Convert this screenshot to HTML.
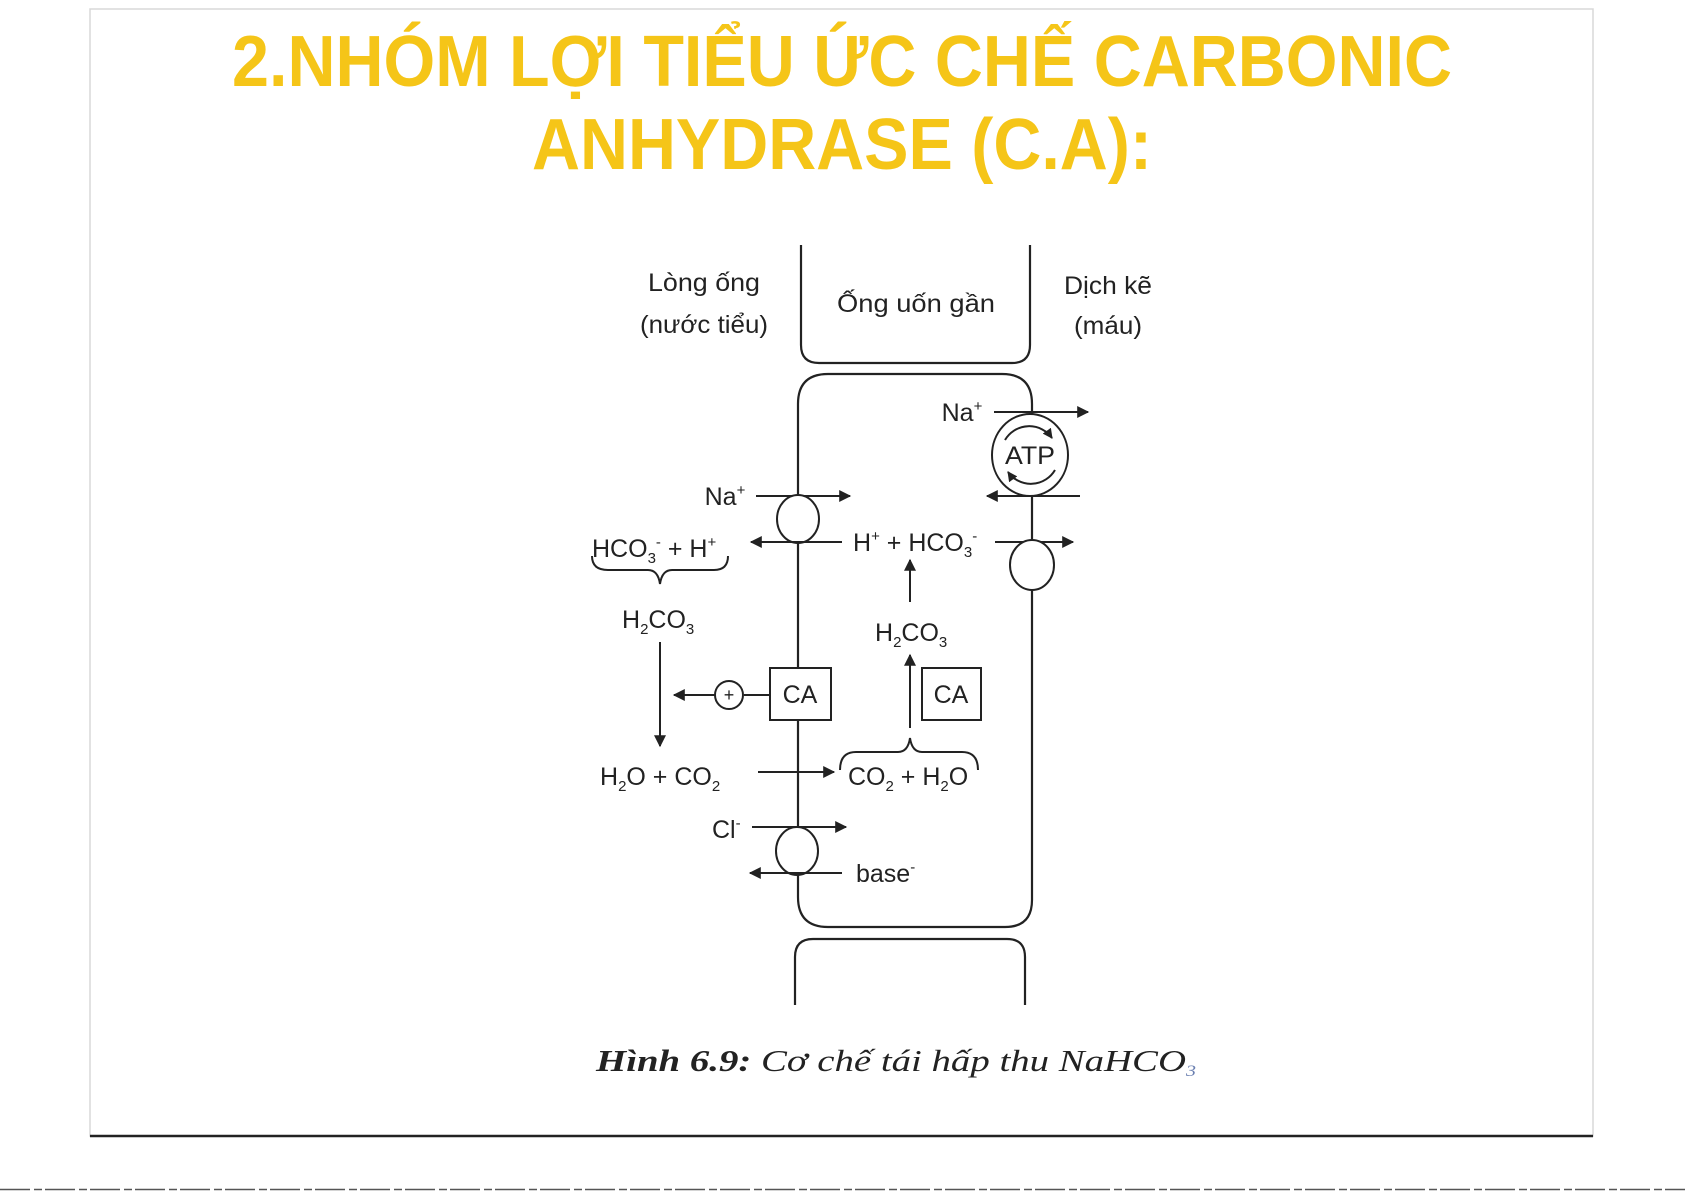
<!DOCTYPE html>
<html><head><meta charset="utf-8"><style>
html,body{margin:0;padding:0;background:#fff;}
svg{display:block;}
.t{font-family:"Liberation Sans",sans-serif;font-size:25px;fill:#222;}
.s{font-size:15px;}
</style></head><body>
<svg width="1685" height="1191" viewBox="0 0 1685 1191" xmlns="http://www.w3.org/2000/svg">
<defs>
<marker id="a" viewBox="0 0 10 10" refX="9" refY="5" markerWidth="10" markerHeight="10" markerUnits="userSpaceOnUse" orient="auto"><path d="M0,0 L10,5 L0,10 z" fill="#222"/></marker>
<marker id="b" viewBox="0 0 10 10" refX="9" refY="5" markerWidth="14" markerHeight="12" markerUnits="userSpaceOnUse" orient="auto"><path d="M0,0 L10,5 L0,10 z" fill="#222"/></marker>
</defs>
<rect x="0" y="0" width="1685" height="1191" fill="#fff"/>
<rect x="90" y="9" width="1503" height="1127" fill="#fff" stroke="#d8d8d8" stroke-width="1.5"/>
<line x1="90" y1="1136" x2="1593" y2="1136" stroke="#222" stroke-width="2.5"/>
<line x1="0" y1="1189.5" x2="1685" y2="1189.5" stroke="#555" stroke-width="1.5" stroke-dasharray="30 4 8 3"/>

<g font-family="Liberation Sans, sans-serif" font-weight="bold" fill="#f5c518" text-anchor="middle">
<text x="842" y="86" font-size="72" textLength="1220" lengthAdjust="spacingAndGlyphs">2.NHÓM LỢI TIỂU ỨC CHẾ CARBONIC</text>
<text x="842" y="169" font-size="72" textLength="620" lengthAdjust="spacingAndGlyphs">ANHYDRASE (C.A):</text>
</g>

<g fill="none" stroke="#222" stroke-width="2.2">
<path d="M801,245 V345 Q801,363 819,363 H1012 Q1030,363 1030,345 V245"/>
<path d="M798,850 V404 Q798,374 828,374 H1002 Q1032,374 1032,404 V900 Q1032,927 1005,927 H828 Q798,927 798,897 V873"/>
<path d="M795,1005 V957 Q795,939 813,939 H1007 Q1025,939 1025,957 V1005"/>
</g>

<g class="t" text-anchor="middle">
<text x="704" y="291" textLength="112" lengthAdjust="spacingAndGlyphs">Lòng ống</text>
<text x="704" y="333" textLength="128" lengthAdjust="spacingAndGlyphs">(nước tiểu)</text>
<text x="916" y="312" textLength="158" lengthAdjust="spacingAndGlyphs">Ống uốn gần</text>
<text x="1108" y="294" textLength="88" lengthAdjust="spacingAndGlyphs">Dịch kẽ</text>
<text x="1108" y="334" textLength="68" lengthAdjust="spacingAndGlyphs">(máu)</text>
</g>

<g stroke="#222" stroke-width="2" fill="none">
<line x1="994" y1="412" x2="1088" y2="412" marker-end="url(#b)"/>
<ellipse cx="1030" cy="455" rx="38" ry="41" fill="#fff"/>
<path d="M1005,440 A28,28 0 0 1 1052,438" marker-end="url(#a)"/>
<path d="M1055,470 A28,28 0 0 1 1008,472" marker-end="url(#a)"/>
<line x1="1080" y1="496" x2="987" y2="496" marker-end="url(#b)"/>
<line x1="756" y1="496" x2="850" y2="496" marker-end="url(#b)"/>
<ellipse cx="798" cy="519" rx="21" ry="24" fill="#fff"/>
<line x1="842" y1="542" x2="751" y2="542" marker-end="url(#b)"/>
<line x1="995" y1="542" x2="1073" y2="542" marker-end="url(#b)"/>
<ellipse cx="1032" cy="565" rx="22" ry="25" fill="#fff"/>
<path d="M592,556 Q592,570 608,570 H648 Q658,570 660,584 Q662,570 672,570 H714 Q728,570 728,556"/>
<line x1="910" y1="602" x2="910" y2="560" marker-end="url(#b)"/>
<line x1="660" y1="642" x2="660" y2="746" marker-end="url(#b)"/>
<rect x="770" y="668" width="61" height="52" fill="#fff"/>
<rect x="922" y="668" width="59" height="52" fill="#fff"/>
<circle cx="729" cy="695" r="14" fill="#fff"/>
<line x1="744" y1="695" x2="770" y2="695"/>
<line x1="715" y1="695" x2="674" y2="695" marker-end="url(#b)"/>
<line x1="910" y1="728" x2="910" y2="655" marker-end="url(#b)"/>
<path d="M840,770 Q840,752 856,752 H898 Q908,752 910,738 Q912,752 922,752 H962 Q978,752 978,770"/>
<line x1="758" y1="772" x2="834" y2="772" marker-end="url(#b)"/>
<line x1="752" y1="827" x2="846" y2="827" marker-end="url(#b)"/>
<ellipse cx="797" cy="851" rx="21" ry="24" fill="#fff"/>
<line x1="842" y1="873" x2="750" y2="873" marker-end="url(#b)"/>
</g>

<g class="t">
<text x="962" y="421" text-anchor="middle">Na<tspan class="s" dy="-10">+</tspan></text>
<text x="1030" y="464" text-anchor="middle" textLength="50" lengthAdjust="spacingAndGlyphs">ATP</text>
<text x="725" y="505" text-anchor="middle">Na<tspan class="s" dy="-10">+</tspan></text>
<text x="853" y="551">H<tspan class="s" dy="-10">+</tspan><tspan dy="10"> + HCO</tspan><tspan class="s" dy="6">3</tspan><tspan class="s" dy="-16">-</tspan></text>
<text x="592" y="557">HCO<tspan class="s" dy="6">3</tspan><tspan class="s" dy="-16">-</tspan><tspan dy="10"> + H</tspan><tspan class="s" dy="-10">+</tspan></text>
<text x="622" y="628">H<tspan class="s" dy="6">2</tspan><tspan dy="-6">CO</tspan><tspan class="s" dy="6">3</tspan></text>
<text x="875" y="641">H<tspan class="s" dy="6">2</tspan><tspan dy="-6">CO</tspan><tspan class="s" dy="6">3</tspan></text>
<text x="800" y="703" text-anchor="middle">CA</text>
<text x="951" y="703" text-anchor="middle">CA</text>
<text x="729" y="701" text-anchor="middle" style="font-size:18px">+</text>
<text x="600" y="785">H<tspan class="s" dy="6">2</tspan><tspan dy="-6">O + CO</tspan><tspan class="s" dy="6">2</tspan></text>
<text x="848" y="785">CO<tspan class="s" dy="6">2</tspan><tspan dy="-6"> + H</tspan><tspan class="s" dy="6">2</tspan><tspan dy="-6">O</tspan></text>
<text x="712" y="838">Cl<tspan class="s" dy="-10">-</tspan></text>
<text x="856" y="882">base<tspan class="s" dy="-10">-</tspan></text>
</g>

<text x="596" y="1071" font-family="Liberation Serif, serif" font-size="31" font-style="italic" fill="#222" textLength="600" lengthAdjust="spacingAndGlyphs"><tspan font-weight="bold">Hình 6.9:</tspan> Cơ chế tái hấp thu NaHCO<tspan font-size="16" dy="5" fill="#6a7fb0">3</tspan></text>
</svg>
</body></html>
